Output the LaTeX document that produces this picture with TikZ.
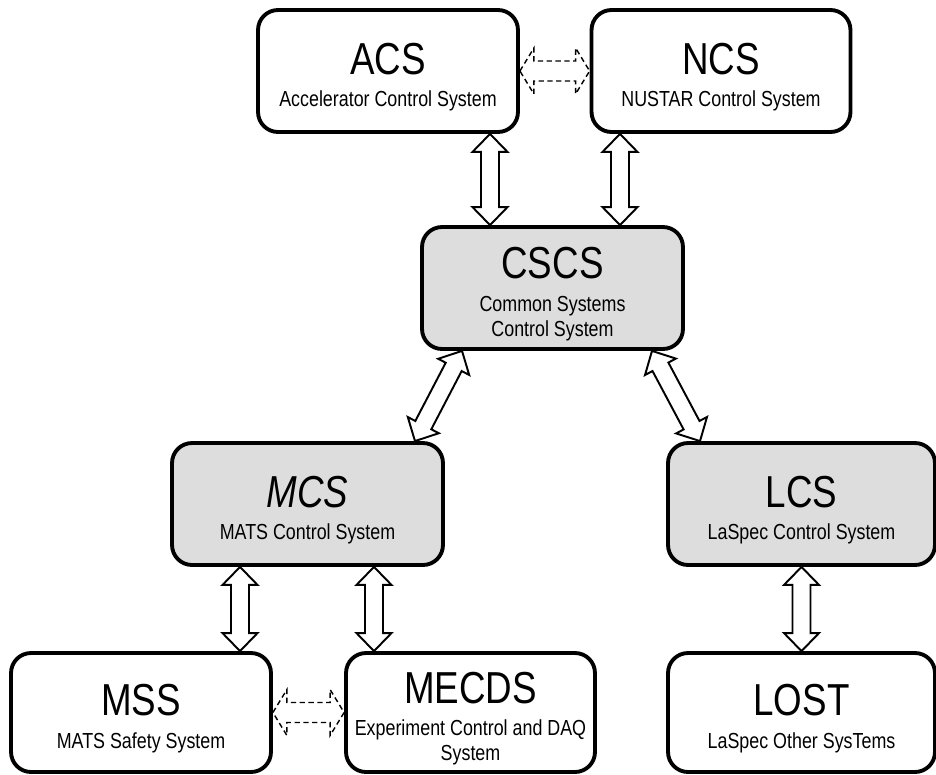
\documentclass[tikz,border=0pt]{standalone}
\usepackage{fontspec}
\setmainfont{Liberation Sans}[FakeStretch=0.82]
\usepackage{xcolor}
\usepackage{tikz}
\usetikzlibrary{positioning,calc}
\definecolor{boxgray}{RGB}{221,221,221}
\newcommand{\sysnm}[1]{{\fontsize{25.5}{28}\selectfont\rule{0pt}{25pt}#1}}
% two-headed hollow arrow: style, from, to, head length, head half width, shaft half width
\newcommand{\twoway}[6]{%
  \draw[#1] (#2) -- ($(#2)!#4!(#3)!#5!90:(#3)$) -- ($(#2)!#4!(#3)!#6!90:(#3)$)
    -- ($(#3)!#4!(#2)!#6!-90:(#2)$) -- ($(#3)!#4!(#2)!#5!-90:(#2)$) -- (#3)
    -- ($(#3)!#4!(#2)!#5!90:(#2)$) -- ($(#3)!#4!(#2)!#6!90:(#2)$)
    -- ($(#2)!#4!(#3)!#6!-90:(#3)$) -- ($(#2)!#4!(#3)!#5!-90:(#3)$) -- cycle;}
\newcommand{\syslink}[2]{\twoway{link}{#1}{#2}{0.36cm}{0.35cm}{0.18cm}}
\newcommand{\optlink}[2]{\twoway{optional}{#1}{#2}{0.28cm}{0.46cm}{0.2cm}}

\begin{document}
\begin{tikzpicture}[x=0.02cm, y=-0.02cm,
    sysbox/.style={rectangle, rounded corners=0.4cm, draw=black, line width=2.2pt,
                   fill=white, minimum height=2.44cm, inner sep=0pt, align=center,
                   font=\fontsize{12.4}{18.5}\selectfont},
    corebox/.style={sysbox, fill=boxgray},
    link/.style={draw=black, fill=white, line width=1.1pt, line join=miter},
    optional/.style={draw=black, fill=white, line width=0.8pt,
                     dash pattern=on 3pt off 2pt}
  ]
  \useasboundingbox (0,0) rectangle (936,774);

  % top level
  \node[sysbox, minimum width=5.2cm] (acs) at (388,71)
        {\sysnm{ACS}\\Accelerator Control System};
  \node[sysbox, minimum width=5.18cm] (ncs) at (721,71)
        {\sysnm{NCS}\\NUSTAR Control System};
  \node[corebox, minimum width=5.22cm] (cscs) at (552.5,288)
        {\sysnm{CSCS}\\Common Systems\\[-4.3pt]Control System};

  % second level
  \node[corebox, minimum width=5.42cm] (mcs) at (307.5,504)
        {\sysnm{\itshape MCS}\\MATS Control System};
  \node[corebox, minimum width=5.34cm] (lcs) at (801.5,504)
        {\sysnm{LCS}\\LaSpec Control System};

  % bottom level
  \node[sysbox, minimum width=5.2cm, minimum height=2.38cm] (mss) at (141,712.5)
        {\sysnm{MSS}\\MATS Safety System};
  \node[sysbox, minimum width=4.98cm, minimum height=2.38cm] (mecds) at (470.5,712.5)
        {\sysnm{MECDS}\\Experiment Control and DAQ\\[-4.3pt]System};
  \node[sysbox, minimum width=5.34cm, minimum height=2.38cm] (lost) at (801.5,712.5)
        {\sysnm{LOST}\\LaSpec Other SysTems};

  % anchor points of the links
  \coordinate (c1) at ([xshift=-1.25cm]cscs.north);
  \coordinate (c2) at ([xshift=1.35cm]cscs.north);
  \coordinate (c3) at ([xshift=-1.81cm]cscs.south);
  \coordinate (c4) at ([xshift=1.99cm]cscs.south);
  \coordinate (m1) at ([xshift=2.15cm]mcs.north);
  \coordinate (m2) at ([xshift=-1.35cm]mcs.south);
  \coordinate (m3) at ([xshift=1.33cm]mcs.south);
  \coordinate (l1) at ([xshift=-2.03cm]lcs.north);
  \coordinate (a1) at (c1 |- acs.south);
  \coordinate (n1) at (c2 |- ncs.south);
  \coordinate (s1) at (m2 |- mss.north);
  \coordinate (e1) at (m3 |- mecds.north);

  \syslink{a1}{c1}
  \syslink{n1}{c2}
  \syslink{c3}{m1}
  \syslink{c4}{l1}
  \syslink{m2}{s1}
  \syslink{m3}{e1}
  \syslink{lcs.south}{lost.north}
  \optlink{acs.east}{ncs.west}
  \optlink{mss.east}{mecds.west}
\end{tikzpicture}
\end{document}
